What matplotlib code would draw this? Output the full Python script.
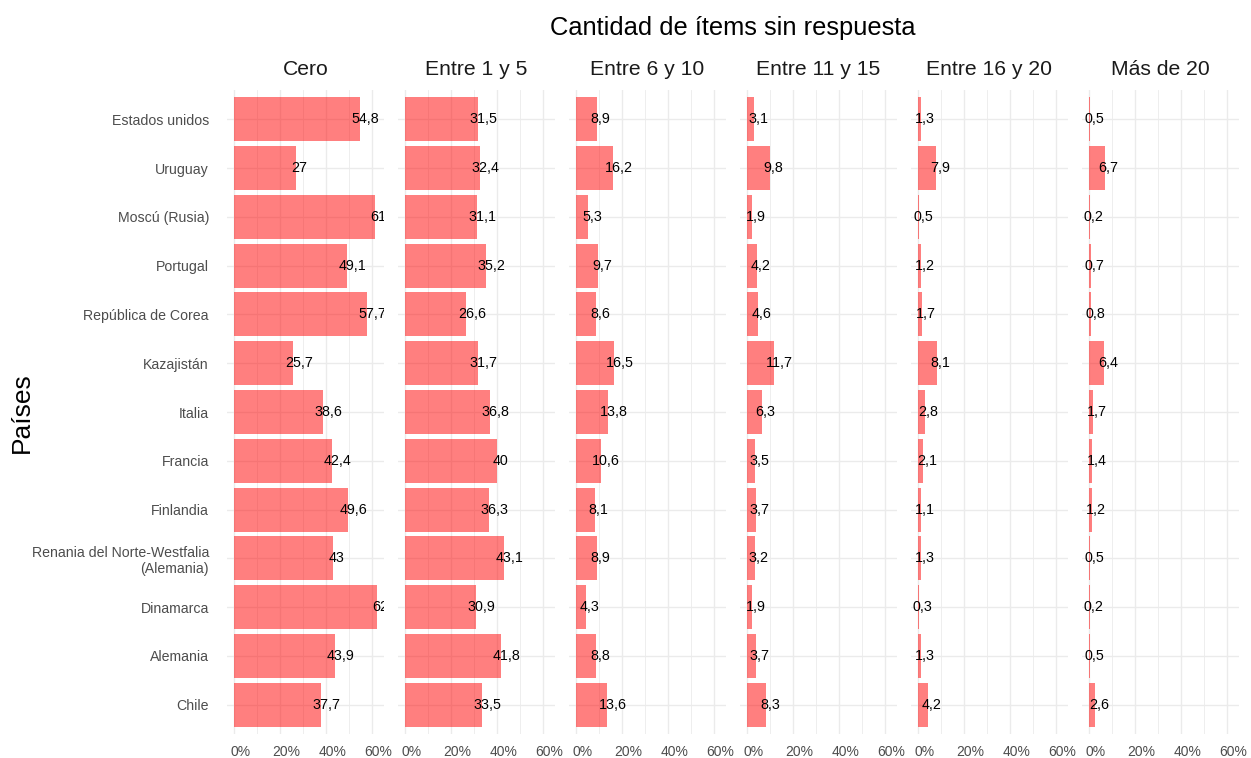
import matplotlib.pyplot as plt
import numpy as np
from matplotlib.ticker import MultipleLocator, FuncFormatter
from matplotlib.transforms import ScaledTranslation

plt.rcParams['font.family'] = ['Liberation Sans', 'DejaVu Sans']

paises = ["Estados unidos", "Uruguay", "Moscú (Rusia)", "Portugal",
          "República de Corea", "Kazajistán", "Italia", "Francia", "Finlandia",
          "Renania del Norte-Westfalia\n(Alemania)", "Dinamarca", "Alemania", "Chile"]

categorias = ["Cero", "Entre 1 y 5", "Entre 6 y 10", "Entre 11 y 15",
              "Entre 16 y 20", "Más de 20"]

cero = [54.8, 27, 61, 49.1, 57.7, 25.7, 38.6, 42.4, 49.6, 43, 62, 43.9, 37.7]
entre_1_5 = [31.5, 32.4, 31.1, 35.2, 26.6, 31.7, 36.8, 40, 36.3, 43.1, 30.9, 41.8, 33.5]
entre_6_10 = [8.9, 16.2, 5.3, 9.7, 8.6, 16.5, 13.8, 10.6, 8.1, 8.9, 4.3, 8.8, 13.6]
entre_11_15 = [3.1, 9.8, 1.9, 4.2, 4.6, 11.7, 6.3, 3.5, 3.7, 3.2, 1.9, 3.7, 8.3]
entre_16_20 = [1.3, 7.9, 0.5, 1.2, 1.7, 8.1, 2.8, 2.1, 1.1, 1.3, 0.3, 1.3, 4.2]
mas_20 = [0.5, 6.7, 0.2, 0.7, 0.8, 6.4, 1.7, 1.4, 1.2, 0.5, 0.2, 0.5, 2.6]

valores = [cero, entre_1_5, entre_6_10, entre_11_15, entre_16_20, mas_20]

W, H = 1251, 758
fig = plt.figure(figsize=(W / 100, H / 100), dpi=100)

# posiciones de los paneles en pixeles
x0, paso, ancho = 227, 171, 157
arriba, abajo = 90, 734
xmax = max(max(v) for v in valores)
lim = (-xmax * 0.05, xmax * 1.05)

y = np.arange(len(paises))
gris = "#EBEBEB"
fs_etiqueta = 10.3


def ancho_texto(s):
    # ancho aproximado en pulgadas (digitos 0.556 em, coma 0.278 em)
    em = sum(0.278 if c == "," else 0.556 for c in s)
    return em * fs_etiqueta / 72


for i, (cat, vals) in enumerate(zip(categorias, valores)):
    ax = fig.add_axes([(x0 + paso * i) / W, (H - abajo) / H, ancho / W, (abajo - arriba) / H])
    ax.barh(y, vals, height=0.9, color="red", alpha=0.5, zorder=2)
    for yy, v in zip(y, vals):
        txt = ("%g" % v).replace(".", ",")
        desp = ScaledTranslation(-0.3 * ancho_texto(txt), 0, fig.dpi_scale_trans)
        ax.text(v, yy, txt, ha="left", va="center", fontsize=fs_etiqueta, color="black",
                clip_on=True, zorder=3, transform=ax.transData + desp)
    ax.set_xlim(*lim)
    ax.set_ylim(len(paises) - 0.4, -0.6)
    ax.xaxis.set_major_locator(MultipleLocator(20))
    ax.xaxis.set_minor_locator(MultipleLocator(10))
    ax.xaxis.set_major_formatter(FuncFormatter(lambda v, p: "%d%%" % v))
    ax.set_yticks(y)
    if i == 0:
        ax.set_yticklabels(paises, fontsize=10.2, color="#4D4D4D", ha="right",
                           multialignment="right")
    else:
        ax.set_yticklabels([])
    ax.tick_params(axis="y", length=0, pad=13)
    ax.tick_params(axis="x", which="both", length=0, pad=8, labelsize=10, labelcolor="#4D4D4D")
    for lab in ax.get_xticklabels():
        lab.set_transform(lab.get_transform() + ScaledTranslation(0.06, 0, fig.dpi_scale_trans))
    ax.grid(True, which="major", color=gris, lw=1.0, zorder=0)
    ax.grid(True, which="minor", axis="x", color=gris, lw=0.6, zorder=0)
    ax.set_axisbelow(True)
    for s in ax.spines.values():
        s.set_visible(False)
    ax.set_title(cat, fontsize=15.2, color="#1A1A1A", pad=11)

fig.text((x0 + x0 + paso * 5 + ancho) / 2 / W, 1 - 28 / H, "Cantidad de ítems sin respuesta",
         ha="center", va="center", fontsize=18.4, color="black")
fig.text(22 / W, 1 - 413 / H, "Países", rotation=90, ha="center", va="center",
         fontsize=19, color="black")

fig.savefig("out.png", dpi=100)
